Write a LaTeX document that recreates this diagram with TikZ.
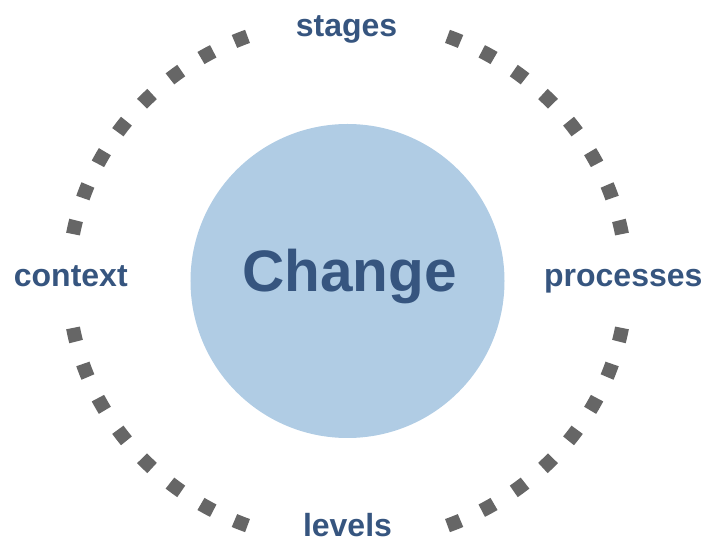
\documentclass[tikz,border=0pt]{standalone}
\usepackage{fontspec}
\setmainfont{Liberation Sans}
\definecolor{ringgray}{HTML}{666666}
\definecolor{corefill}{HTML}{B0CCE4}
\definecolor{labelblue}{HTML}{36557F}
\begin{document}
\begin{tikzpicture}[
    core/.style={circle, fill=corefill, minimum size=314pt, inner sep=0pt},
    aspect/.style={text=labelblue, font=\bfseries\fontsize{32}{38}\selectfont, anchor=base, inner sep=0pt},
    dotring/.style={ringgray, line width=14pt, dash pattern=on 14pt off 23.4pt}
]
    \useasboundingbox (-347.5pt,-256pt) rectangle (358.5pt,281pt);

    \node[core] (change) at (0,0) {};
    \node[text=labelblue, font=\bfseries\fontsize{58.5}{66}\selectfont, anchor=base, inner sep=0pt] (title) at (2pt,-10.7pt) {Change};

    % four dotted quarter arcs, gaps left for the labels
    \foreach \a/\b in {111/169.8, 69/10.2, -111/-169.8, -69/-10.2}
        \draw[dotring] (\a:279pt and 262pt) arc[start angle=\a, end angle=\b, x radius=279pt, y radius=262pt];

    \node[aspect] (stages) at (-1pt,244pt) {stages};
    \node[aspect] (levels) at (0pt,-255pt) {levels};
    \node[aspect] (context) at (-276.7pt,-6pt) {context};
    \node[aspect] (processes) at (275.8pt,-6pt) {processes};
\end{tikzpicture}
\end{document}
